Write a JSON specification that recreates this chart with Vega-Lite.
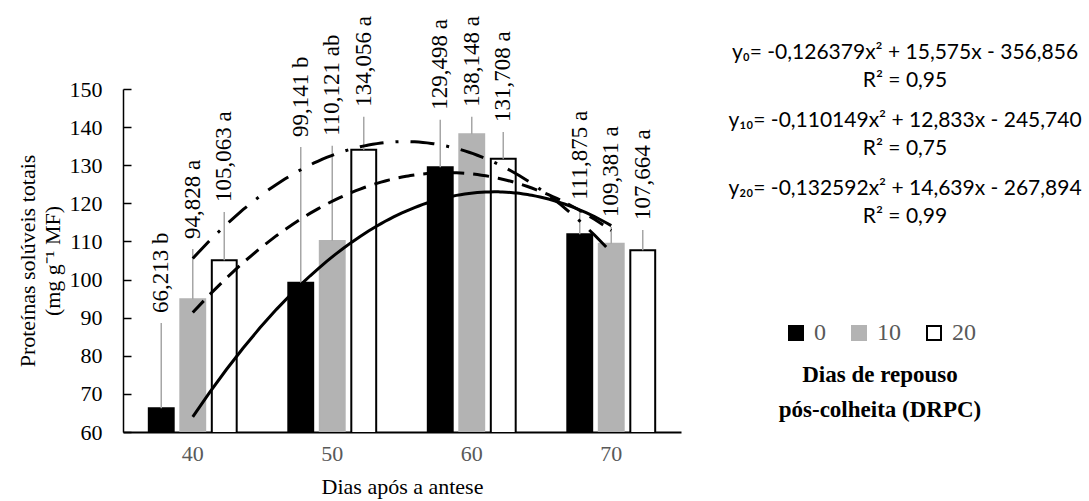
{
  "$schema": "https://vega.github.io/schema/vega-lite/v6.json",
  "background": "white",
  "padding": {"left": 16, "top": 16, "right": 4, "bottom": 2},
  "bounds": "flush",
  "spacing": 44,
  "config": {
    "view": {"stroke": null},
    "font": "Liberation Serif",
    "text": {"font": "Liberation Serif"},
    "axis": {
      "grid": false,
      "domainColor": "black",
      "tickColor": "black",
      "labelFont": "Liberation Serif",
      "titleFont": "Liberation Serif",
      "labelOverlap": false
    },
    "legend": {
      "labelFont": "Liberation Serif",
      "labelFontSize": 24,
      "labelColor": "#595959",
      "titleFont": "Liberation Serif",
      "titleFontSize": 23,
      "titleFontWeight": "bold",
      "titleColor": "black",
      "titleLimit": 400
    }
  },
  "hconcat": [
    {
      "width": 558,
      "height": 343,
      "data": {
        "values": [
          {"dias": 40, "drpc": 0, "proteina": 66.213, "rotulo": "66,213 b", "y_rotulo": 88.6},
          {"dias": 40, "drpc": 10, "proteina": 94.828, "rotulo": "94,828 a", "y_rotulo": 108.0},
          {"dias": 40, "drpc": 20, "proteina": 105.063, "rotulo": "105,063 a", "y_rotulo": 117.7},
          {"dias": 50, "drpc": 0, "proteina": 99.141, "rotulo": "99,141 b", "y_rotulo": 134.8},
          {"dias": 50, "drpc": 10, "proteina": 110.121, "rotulo": "110,121 ab", "y_rotulo": 135.1},
          {"dias": 50, "drpc": 20, "proteina": 134.056, "rotulo": "134,056 a", "y_rotulo": 142.7},
          {"dias": 60, "drpc": 0, "proteina": 129.498, "rotulo": "129,498 a", "y_rotulo": 141.9},
          {"dias": 60, "drpc": 10, "proteina": 138.148, "rotulo": "138,148 a", "y_rotulo": 142.7},
          {"dias": 60, "drpc": 20, "proteina": 131.708, "rotulo": "131,708 a", "y_rotulo": 138.7},
          {"dias": 70, "drpc": 0, "proteina": 111.875, "rotulo": "111,875 a", "y_rotulo": 118.3},
          {"dias": 70, "drpc": 10, "proteina": 109.381, "rotulo": "109,381 a", "y_rotulo": 113.8},
          {"dias": 70, "drpc": 20, "proteina": 107.664, "rotulo": "107,664 a", "y_rotulo": 113.0}
        ]
      },
      "resolve": {"scale": {"x": "independent"}},
      "layer": [
        {
          "layer": [
            {
              "mark": {"type": "bar", "strokeWidth": 2, "clip": true},
              "encoding": {
                "x": {
                  "field": "dias",
                  "type": "ordinal",
                  "scale": {"paddingInner": 0.37, "paddingOuter": 0.185},
                  "axis": {
                    "title": "Dias após a antese",
                    "labelAngle": 0,
                    "labelColor": "#595959",
                    "labelFontSize": 22,
                    "labelPadding": 11,
                    "ticks": false,
                    "domainWidth": 2,
                    "titleFontSize": 22,
                    "titleFontWeight": "normal",
                    "titleColor": "black",
                    "titlePadding": 12
                  }
                },
                "xOffset": {"field": "drpc", "type": "nominal", "scale": {"paddingInner": 0.21}},
                "y": {
                  "field": "proteina",
                  "type": "quantitative",
                  "scale": {"domain": [60, 150], "zero": false, "nice": false},
                  "axis": {
                    "orient": "left",
                    "values": [60, 70, 80, 90, 100, 110, 120, 130, 140, 150],
                    "tickCount": 10,
                    "labelOverlap": false,
                    "labelFlush": false,
                    "title": ["Proteínas solúveis totais", "(mg g⁻¹ MF)"],
                    "titleFontSize": 22,
                    "titleFontWeight": "normal",
                    "titleColor": "black",
                    "titlePadding": 5,
                    "titleLineHeight": 25,
                    "labelFontSize": 22,
                    "labelColor": "black",
                    "labelPadding": 29,
                    "tickSize": -8,
                    "tickWidth": 1.5,
                    "domainWidth": 1.5
                  }
                },
                "fill": {
                  "field": "drpc",
                  "type": "nominal",
                  "scale": {"domain": [0, 10, 20], "range": ["#000000", "#b3b3b3", "#ffffff"]},
                  "legend": {
                    "title": ["Dias de repouso", "pós-colheita (DRPC)"],
                    "orient": "none",
                    "legendX": 656,
                    "legendY": 232,
                    "direction": "horizontal",
                    "gridAlign": "none",
                    "symbolType": "square",
                    "symbolSize": 196,
                    "symbolStrokeWidth": 2,
                    "labelOffset": 6,
                    "columnPadding": 21,
                    "titleOrient": "bottom",
                    "titleAnchor": "middle",
                    "titleAlign": "center",
                    "titlePadding": 19,
                    "titleLineHeight": 35
                  }
                },
                "stroke": {
                  "field": "drpc",
                  "type": "nominal",
                  "scale": {"domain": [0, 10, 20], "range": ["#000000", "#b3b3b3", "#000000"]},
                  "legend": {
                    "title": ["Dias de repouso", "pós-colheita (DRPC)"],
                    "orient": "none",
                    "legendX": 656,
                    "legendY": 232,
                    "direction": "horizontal",
                    "gridAlign": "none",
                    "symbolType": "square",
                    "symbolSize": 196,
                    "symbolStrokeWidth": 2,
                    "labelOffset": 6,
                    "columnPadding": 21,
                    "titleOrient": "bottom",
                    "titleAnchor": "middle",
                    "titleAlign": "center",
                    "titlePadding": 19,
                    "titleLineHeight": 35
                  }
                }
              }
            },
            {
              "mark": {"type": "rule", "color": "#a6a6a6", "strokeWidth": 1.5},
              "encoding": {
                "x": {"field": "dias", "type": "ordinal", "scale": {"paddingInner": 0.37, "paddingOuter": 0.185}},
                "xOffset": {"field": "drpc", "type": "nominal", "scale": {"paddingInner": 0.21}},
                "y": {"field": "proteina", "type": "quantitative"},
                "y2": {"field": "y_rotulo"}
              }
            },
            {
              "mark": {"type": "text", "angle": 270, "align": "left", "baseline": "middle", "dx": 10, "font": "Liberation Serif", "fontSize": 23, "color": "black"},
              "encoding": {
                "x": {"field": "dias", "type": "ordinal", "scale": {"paddingInner": 0.37, "paddingOuter": 0.185}},
                "xOffset": {"field": "drpc", "type": "nominal", "scale": {"paddingInner": 0.21}},
                "y": {"field": "y_rotulo", "type": "quantitative"},
                "text": {"field": "rotulo"}
              }
            }
          ]
        },
        {
          "layer": [
            {
              "transform": [
                {"filter": {"field": "drpc", "equal": 0}},
                {"regression": "proteina", "on": "dias", "method": "poly", "order": 2, "extent": [40, 70]}
              ],
              "mark": {"type": "line", "color": "black", "strokeWidth": 3, "strokeCap": "butt"},
              "encoding": {
                "x": {"field": "dias", "type": "quantitative", "scale": {"domain": [35, 75], "nice": false, "zero": false}, "axis": null},
                "y": {"field": "proteina", "type": "quantitative"}
              }
            },
            {
              "transform": [
                {"filter": {"field": "drpc", "equal": 10}},
                {"regression": "proteina", "on": "dias", "method": "poly", "order": 2, "extent": [40, 70]}
              ],
              "mark": {"type": "line", "color": "black", "strokeWidth": 3, "strokeCap": "butt", "strokeDash": [16, 9]},
              "encoding": {
                "x": {"field": "dias", "type": "quantitative", "scale": {"domain": [35, 75], "nice": false, "zero": false}, "axis": null},
                "y": {"field": "proteina", "type": "quantitative"}
              }
            },
            {
              "transform": [
                {"filter": {"field": "drpc", "equal": 20}},
                {"regression": "proteina", "on": "dias", "method": "poly", "order": 2, "extent": [40, 70]}
              ],
              "mark": {"type": "line", "color": "black", "strokeWidth": 3, "strokeCap": "butt", "strokeDash": [24, 12, 3, 12]},
              "encoding": {
                "x": {"field": "dias", "type": "quantitative", "scale": {"domain": [35, 75], "nice": false, "zero": false}, "axis": null},
                "y": {"field": "proteina", "type": "quantitative"}
              }
            }
          ]
        }
      ]
    },
    {
      "width": 360,
      "height": 343,
      "data": {
        "values": [
          {"drpc": 0, "texto": "y₀= -0,126379x² + 15,575x - 356,856\nR² = 0,95"},
          {"drpc": 10, "texto": "y₁₀= -0,110149x² + 12,833x - 245,740\nR² = 0,75"},
          {"drpc": 20, "texto": "y₂₀= -0,132592x² + 14,639x - 267,894\nR² = 0,99"}
        ]
      },
      "mark": {"type": "text", "font": "Lato", "fontSize": 21, "lineHeight": 28, "lineBreak": "\n", "align": "center", "baseline": "middle", "color": "black"},
      "encoding": {
        "y": {"field": "drpc", "type": "ordinal", "scale": {"type": "point", "padding": 0, "domain": [0, 10, 20], "range": [-36, 100]}, "axis": null},
        "text": {"field": "texto"}
      }
    }
  ]
}
